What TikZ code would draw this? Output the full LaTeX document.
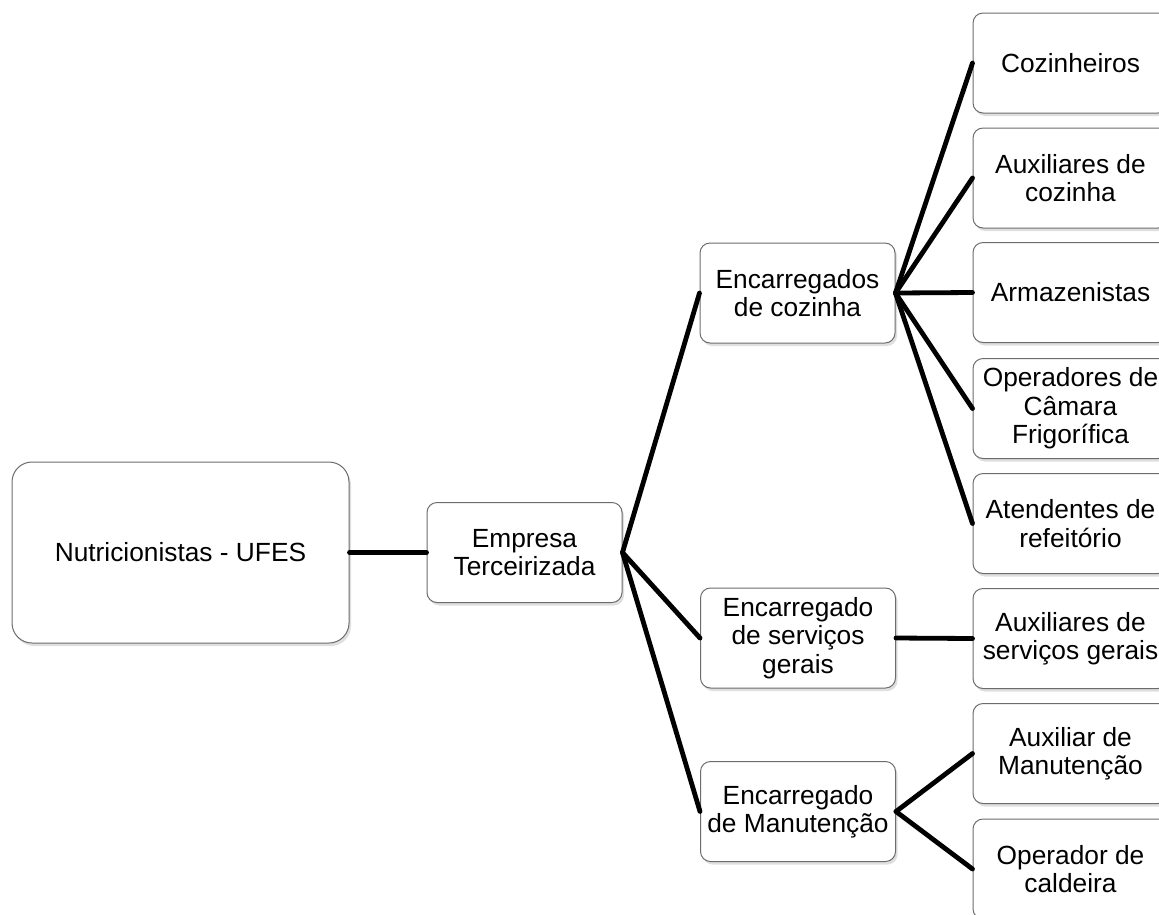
\documentclass[tikz,border=0pt]{standalone}
\usepackage{fontspec}
\setmainfont{Liberation Sans}
\usetikzlibrary{shadows}

\tikzset{
    box/.style={draw=gray!85!black, line width=1pt, fill=white, rounded corners=10pt,
        minimum width=195pt, minimum height=100pt, align=center, inner sep=2pt,
        font=\fontsize{26.3}{28.5}\selectfont,
        drop shadow={opacity=0.25, shadow xshift=2pt, shadow yshift=-3pt}},
    link/.style={line width=4.8pt, line cap=round},
}

\begin{document}
\begin{tikzpicture}[x=1pt, y=-1pt]
            \useasboundingbox (0,0) rectangle (1159,914);
            \clip (0,0) rectangle (1159,914);
            \node[box, minimum width=337pt, minimum height=181pt, rounded corners=20pt] (nutri) at (180.5,552.5) {Nutricionistas - UFES};
            \node[box] (empresa) at (524.5,552.5) {Empresa\\Terceirizada};
            \node[box] (cozinha) at (797.5,293) {Encarregados\\de cozinha};
            \node[box] (servicos) at (798,638) {Encarregado\\de serviços\\gerais};
            \node[box] (manut) at (798,811.5) {Encarregado\\de Manutenção};
            \node[box] (cozinheiros) at (1070.5,63) {Cozinheiros};
            \node[box] (auxcoz) at (1070.5,178) {Auxiliares de\\cozinha};
            \node[box] (armaz) at (1070.5,292.5) {Armazenistas};
            \node[box] (camara) at (1070.5,408.5) {Operadores de\\Câmara\\Frigorífica};
            \node[box] (atend) at (1070.5,523.5) {Atendentes de\\refeitório};
            \node[box] (auxserv) at (1070.5,638.5) {Auxiliares de\\serviços gerais};
            \node[box] (auxmanut) at (1070.5,753.5) {Auxiliar de\\Manutenção};
            \node[box] (caldeira) at (1070.5,869) {Operador de\\caldeira};
            \draw[link] (nutri.east) -- (empresa.west);
            \foreach \n in {cozinha, servicos, manut}
                \draw[link] (empresa.east) -- (\n.west);
            \foreach \n in {cozinheiros, auxcoz, armaz, camara, atend}
                \draw[link] (cozinha.east) -- (\n.west);
            \draw[link] (servicos.east) -- (auxserv.west);
            \foreach \n in {auxmanut, caldeira}
                \draw[link] (manut.east) -- (\n.west);
        \end{tikzpicture}
\end{document}
